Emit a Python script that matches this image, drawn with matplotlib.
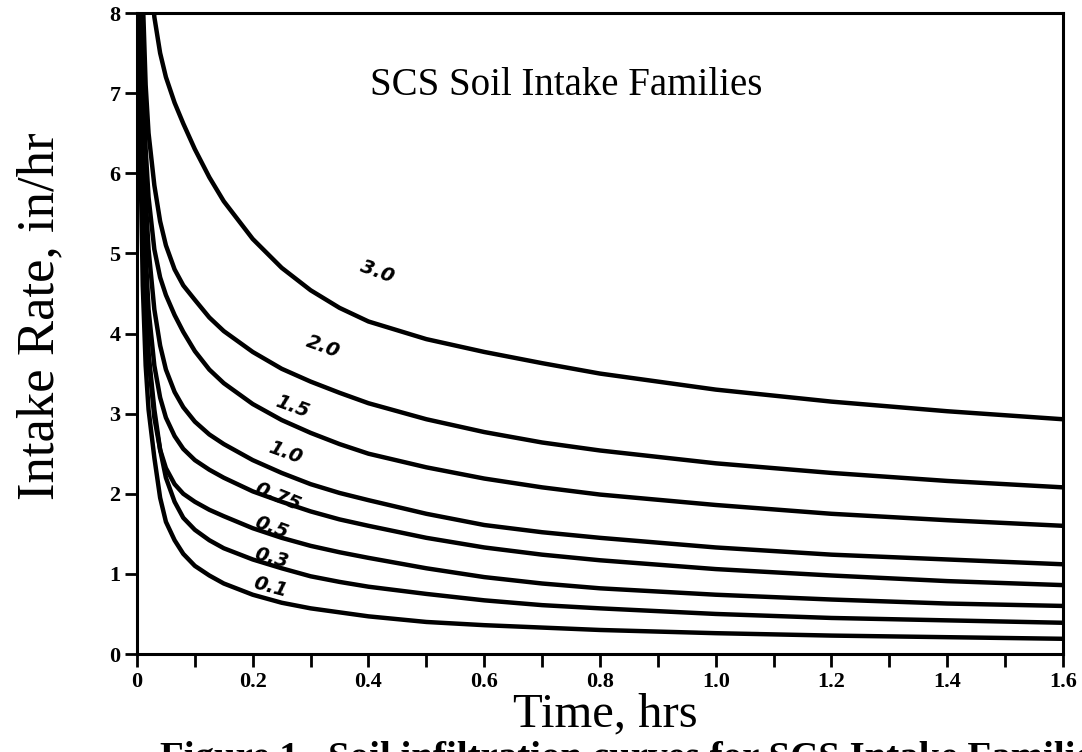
import numpy as np
import matplotlib
matplotlib.use('Agg')
import matplotlib.pyplot as plt

# time, hrs (shared by all curves)
hours = [0.003, 0.006, 0.01, 0.015, 0.02, 0.03, 0.04, 0.05, 0.065, 0.08, 0.1, 0.125, 0.15,
         0.2, 0.25, 0.3, 0.35, 0.4, 0.5, 0.6, 0.7, 0.8, 1.0, 1.2, 1.4, 1.6]

# intake rate, in/hr
fam_30 = [14.0, 12.0, 10.8, 9.6, 8.9, 7.95, 7.5, 7.2, 6.88, 6.62, 6.3, 5.95, 5.65,
          5.18, 4.82, 4.54, 4.32, 4.15, 3.93, 3.77, 3.63, 3.5, 3.3, 3.15, 3.03, 2.93]
fam_20 = [13.0, 10.0, 8.2, 7.1, 6.5, 5.85, 5.4, 5.1, 4.8, 4.6, 4.42, 4.2, 4.03,
          3.77, 3.56, 3.4, 3.26, 3.13, 2.93, 2.77, 2.64, 2.54, 2.38, 2.26, 2.16, 2.08]
fam_15 = [12.0, 9.0, 7.4, 6.3, 5.7, 5.05, 4.7, 4.48, 4.23, 4.02, 3.78, 3.55, 3.38,
          3.12, 2.92, 2.76, 2.62, 2.5, 2.33, 2.19, 2.08, 1.99, 1.86, 1.75, 1.67, 1.6]
fam_10 = [11.5, 8.5, 6.8, 5.7, 5.05, 4.3, 3.85, 3.55, 3.27, 3.08, 2.9, 2.74, 2.62,
          2.42, 2.26, 2.12, 2.01, 1.92, 1.75, 1.61, 1.52, 1.45, 1.33, 1.24, 1.18, 1.12]
fam_075 = [11.0, 8.0, 6.2, 5.0, 4.3, 3.6, 3.2, 2.95, 2.72, 2.56, 2.42, 2.3, 2.2,
           2.03, 1.9, 1.78, 1.68, 1.6, 1.45, 1.33, 1.24, 1.17, 1.06, 0.98, 0.91, 0.86]
fam_05 = [10.5, 7.5, 5.6, 4.4, 3.7, 2.95, 2.55, 2.32, 2.12, 2.0, 1.9, 1.8, 1.72,
          1.57, 1.45, 1.35, 1.27, 1.2, 1.07, 0.96, 0.88, 0.82, 0.74, 0.68, 0.63, 0.6]
fam_03 = [10.0, 7.0, 5.1, 4.3, 3.75, 3.05, 2.55, 2.2, 1.9, 1.7, 1.55, 1.42, 1.32,
          1.18, 1.07, 0.97, 0.9, 0.84, 0.75, 0.67, 0.61, 0.57, 0.5, 0.45, 0.42, 0.39]
fam_01 = [9.5, 6.2, 4.6, 3.6, 3.05, 2.45, 1.95, 1.65, 1.42, 1.25, 1.1, 0.98, 0.88,
          0.74, 0.64, 0.57, 0.52, 0.47, 0.4, 0.36, 0.33, 0.3, 0.26, 0.23, 0.21, 0.19]

families = [fam_30, fam_20, fam_15, fam_10, fam_075, fam_05, fam_03, fam_01]
fam_names = ['3.0', '2.0', '1.5', '1.0', '0.75', '0.5', '0.3', '0.1']

# where the family numbers sit (x, y in data units) and their tilt
label_x = [0.415, 0.322, 0.269, 0.256, 0.244, 0.233, 0.233, 0.230]
label_y = [4.77, 3.83, 3.08, 2.51, 1.96, 1.58, 1.20, 0.84]
label_rot = [-20, -20, -20, -20, -22, -20, -15, -15]

serif = ['Liberation Serif', 'DejaVu Serif']

fig = plt.figure(figsize=(10.82, 7.52), dpi=100)
ax = fig.add_axes([0.1266, 0.1303, 0.8558, 0.8524])

for vals in families:
    ax.plot(hours, vals, color='black', lw=3.2, solid_joinstyle='round',
            solid_capstyle='butt')

for name, lx, ly, r in zip(fam_names, label_x, label_y, label_rot):
    ax.text(lx, ly, name, fontsize=14, style='italic', fontweight='bold',
            family='DejaVu Sans', rotation=r, ha='center', va='center')

ax.text(0.741, 7.10, 'SCS Soil Intake Families', fontsize=28, family=serif,
        ha='center', va='center')

ax.set_xlim(0, 1.6)
ax.set_ylim(0, 8)
ax.set_xticks(np.arange(0, 1.61, 0.2))
ax.set_xticks(np.arange(0.1, 1.6, 0.2), minor=True)
ax.set_xticklabels(['0', '0.2', '0.4', '0.6', '0.8', '1.0', '1.2', '1.4', '1.6'])
ax.set_yticks(range(0, 9))
for lab in ax.get_xticklabels() + ax.get_yticklabels():
    lab.set_family(serif)
    lab.set_fontweight('bold')
    lab.set_fontsize(16)
ax.tick_params(which='both', direction='out', length=9, width=2, color='black')
ax.tick_params(axis='y', pad=3)
ax.tick_params(axis='x', pad=4)
for sp in ax.spines.values():
    sp.set_linewidth(2.2)

fig.text(605 / 1082, 1 - 714 / 752, 'Time, hrs', fontsize=35, family=serif,
         ha='center', va='center')
fig.text(40 / 1082, 1 - 316 / 752, 'Intake Rate, in/hr', fontsize=38, family=serif,
         rotation=90, ha='center', va='center')
# caption, cut off by the bottom edge as in the scan
fig.text(160 / 1082, 1 - 741 / 752, 'Figure 1.  Soil infiltration curves for SCS Intake Families',
         fontsize=28, family=serif, fontweight='bold', ha='left', va='top')

fig.savefig('out.png', dpi=100)
